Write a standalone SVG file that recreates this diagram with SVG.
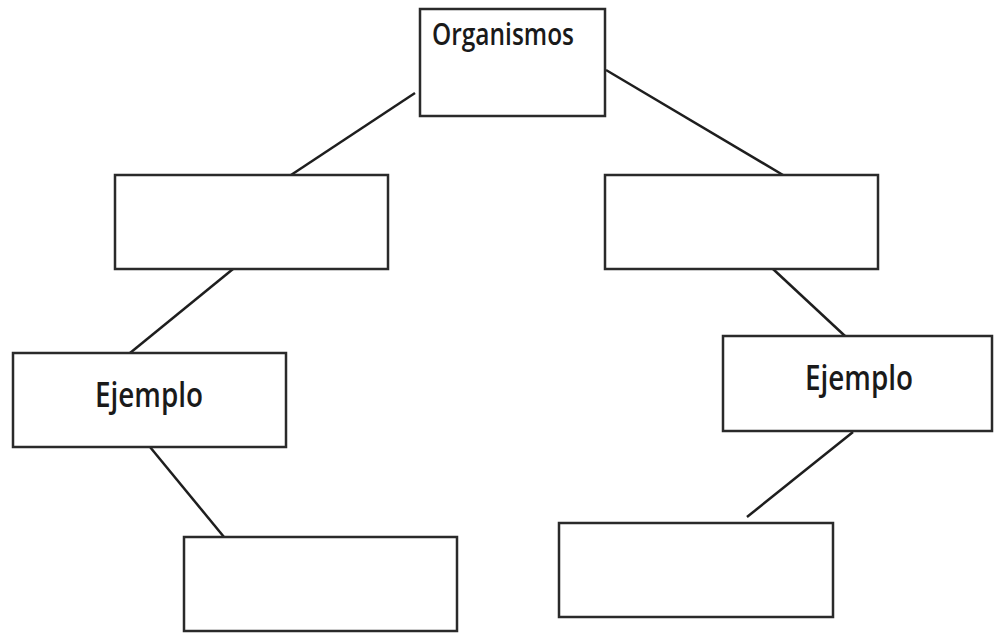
<svg xmlns="http://www.w3.org/2000/svg" width="994" height="634" viewBox="0 0 994 634">
<style>
.box{fill:#fff;stroke:#2a2a2a;stroke-width:2.5}
.ln{stroke:#1e1e1e;stroke-width:2.5;fill:none}
.t{font-family:"Open Sans","Liberation Sans",sans-serif;fill:#1a1a1a;font-weight:600}
</style>
<rect width="994" height="634" fill="#fff"/>
<g id="connectors">
<line class="ln" x1="415" y1="93" x2="291" y2="175"/>
<line class="ln" x1="606" y1="70" x2="783" y2="175"/>
<line class="ln" x1="233" y1="269" x2="130" y2="353"/>
<line class="ln" x1="150" y1="447" x2="224" y2="537"/>
<line class="ln" x1="773" y1="269" x2="845" y2="336"/>
<line class="ln" x1="853" y1="432" x2="747" y2="517"/>
</g>
<g id="organismos">
<rect class="box" x="420" y="9" width="185" height="107"/>
<text class="t" x="432" y="45" font-size="30" textLength="142" lengthAdjust="spacingAndGlyphs">Organismos</text>
</g>
<g id="mid-left">
<rect class="box" x="115" y="175" width="273" height="94"/>
</g>
<g id="mid-right">
<rect class="box" x="605" y="175" width="273" height="94"/>
</g>
<g id="ejemplo-left">
<rect class="box" x="13" y="353" width="273" height="94"/>
<text class="t" x="95" y="407" font-size="35" textLength="108" lengthAdjust="spacingAndGlyphs">Ejemplo</text>
</g>
<g id="ejemplo-right">
<rect class="box" x="723" y="336" width="269" height="95"/>
<text class="t" x="805" y="390" font-size="35" textLength="108" lengthAdjust="spacingAndGlyphs">Ejemplo</text>
</g>
<g id="bottom-left">
<rect class="box" x="184" y="537" width="273" height="94"/>
</g>
<g id="bottom-right">
<rect class="box" x="559" y="523" width="274" height="94"/>
</g>
</svg>
